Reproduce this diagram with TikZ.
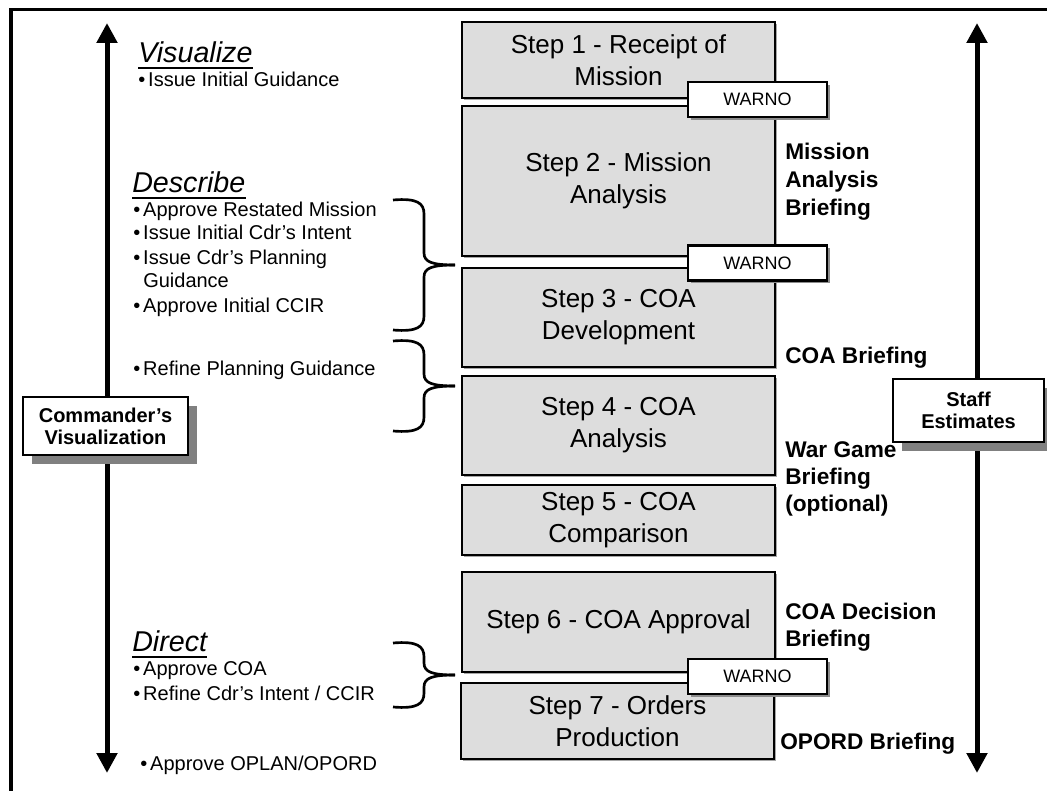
\documentclass[tikz,border=0pt]{standalone}
\usepackage{fontspec}
\setmainfont{Liberation Sans}
\usetikzlibrary{arrows.meta,shadows}
\definecolor{stepgray}{RGB}{221,221,221}
\newcommand{\mybul}{\makebox[7.5pt][l]{\textbullet}}
\newcommand{\mybrace}[3]{%
 \draw[bracepath] (393,#1) .. controls (417,{#1-2}) and (424,{#1+3}) .. (424,{#1+14}) -- (424,{#2-12}) .. controls (424,{#2-3}) and (432,#2) .. (455,#2);
 \draw[bracepath] (455,#2) .. controls (432,#2) and (424,{#2+3}) .. (424,{#2+12}) -- (424,{#3-14}) .. controls (424,{#3-3}) and (417,{#3+2}) .. (393,#3);}
\begin{document}
\begin{tikzpicture}[x=0.75pt,y=-0.75pt,
  stepbox/.style={draw, line width=2.2pt, fill=stepgray, align=center,
    font=\fontsize{19.5}{24}\selectfont, minimum width=234.75pt, inner sep=0pt,
    drop shadow={shadow xshift=1.5pt, shadow yshift=-1.5pt, fill=black!35, opacity=1}},
  warno/.style={draw, line width=2pt, fill=white, font=\fontsize{13.5}{15}\selectfont,
    minimum width=104.25pt, minimum height=26.25pt, inner sep=0pt,
    drop shadow={shadow xshift=2pt, shadow yshift=-2pt, fill=black!45, opacity=1}},
  sidebox/.style={draw, line width=2.2pt, fill=white, align=center,
    font=\bfseries\fontsize{15}{16.5}\selectfont, inner sep=0pt,
    drop shadow={shadow xshift=6.5pt, shadow yshift=-6.5pt, fill=black!50, opacity=1}},
  bigarrow/.style={line width=3.75pt, {Triangle[width=15pt,length=15pt]}-{Triangle[width=15pt,length=15pt]}},
  heading/.style={anchor=base west, inner sep=0pt, font=\itshape\fontsize{21.5}{24}\selectfont},
  listline/.style={anchor=west, inner sep=0pt, text height=0.72em, text depth=0pt, font=\fontsize{15}{18}\selectfont},
  brief/.style={anchor=west, inner sep=0pt, text height=0.72em, text depth=0pt, font=\bfseries\fontsize{17}{20}\selectfont},
  bracepath/.style={line width=2pt},
  uline/.style={line width=1.8pt}
]
\useasboundingbox (0,0) rectangle (1047,791);
% frame
\draw[line width=2.6pt] (11,791) -- (11,9.5) -- (1047,9.5);
% vertical arrows
\coordinate (lt) at (107,23); \coordinate (lb) at (107,773);
\draw[bigarrow] (lb) -- (lt);
\coordinate (rt) at (977,23); \coordinate (rb) at (977,773);
\draw[bigarrow] (rb) -- (rt);
% steps
\node[stepbox, minimum height=57pt]    (s1) at (618.5,60)    {Step 1 - Receipt of\\Mission};
\node[stepbox, minimum height=112.5pt] (s2) at (618.5,181)   {Step 2 - Mission\\Analysis};
\node[stepbox, minimum height=74.25pt] (s3) at (618.5,317.5) {Step 3 - COA\\Development};
\node[stepbox, minimum height=74.25pt] (s4) at (618.5,425.5) {Step 4 - COA\\Analysis};
\node[stepbox, minimum height=52.5pt]  (s5) at (618.5,520)   {Step 5 - COA\\Comparison};
\node[stepbox, minimum height=75pt]    (s6) at (618.5,622)   {Step 6 - COA Approval};
\node[stepbox, minimum height=57pt]    (s7) at (617.5,721)   {Step 7 - Orders\\Production};
% WARNOs
\node[warno] (w1) at (757.5,99.5)  {WARNO};
\node[warno] (w2) at (757.5,263)   {WARNO};
\node[warno] (w3) at (757.5,676.5) {WARNO};
% side boxes
\node[sidebox, minimum width=123.75pt, minimum height=43.5pt] (cv) at (105.5,426) {Commander’s\\Visualization};
\node[sidebox, minimum width=113.25pt, minimum height=47.25pt] (se) at (968.5,410.5) {Staff\\Estimates};
% Visualize
\node[heading] (vis) at (138,63) {Visualize};
\draw[uline] ([yshift=-3.75pt]vis.base west) -- ([yshift=-3.75pt]vis.base east);
\node[listline] (v1) at (138,81.5) {\mybul Issue Initial Guidance};
% Describe
\node[heading] (des) at (132,193) {Describe};
\draw[uline] ([yshift=-3.75pt]des.base west) -- ([yshift=-3.75pt]des.base east);
\node[listline] (d1) at (133,212) {\mybul Approve Restated Mission};
\node[listline] (d2) at (133,235) {\mybul Issue Initial Cdr’s Intent};
\node[listline] (d3) at (133,260) {\mybul Issue Cdr’s Planning};
\node[listline] (d4) at (143,283) {Guidance};
\node[listline] (d5) at (133,308) {\mybul Approve Initial CCIR};
\node[listline] (d6) at (133,371) {\mybul Refine Planning Guidance};
% Direct
\node[heading] (dir) at (132,652) {Direct};
\draw[uline] ([yshift=-3.75pt]dir.base west) -- ([yshift=-3.75pt]dir.base east);
\node[listline] (r1) at (133,671) {\mybul Approve COA};
\node[listline] (r2) at (133,696) {\mybul Refine Cdr’s Intent / CCIR};
\node[listline] (r3) at (140,766) {\mybul Approve OPLAN/OPORD};
% braces
\mybrace{200}{265}{330}
\mybrace{341}{386}{431}
\mybrace{643}{675}{707}
% briefings
\node[brief] (b1) at (785,155) {Mission};
\node[brief] (b2) at (785,183) {Analysis};
\node[brief] (b3) at (785,211) {Briefing};
\node[brief] (b4) at (785,359) {COA Briefing};
\node[brief] (b5) at (785,453) {War Game};
\node[brief] (b6) at (785,480) {Briefing};
\node[brief] (b7) at (785,507) {(optional)};
\node[brief] (b8) at (785,615) {COA Decision};
\node[brief] (b9) at (785,642) {Briefing};
\node[brief] (b10) at (780,745) {OPORD Briefing};
\end{tikzpicture}
\end{document}
